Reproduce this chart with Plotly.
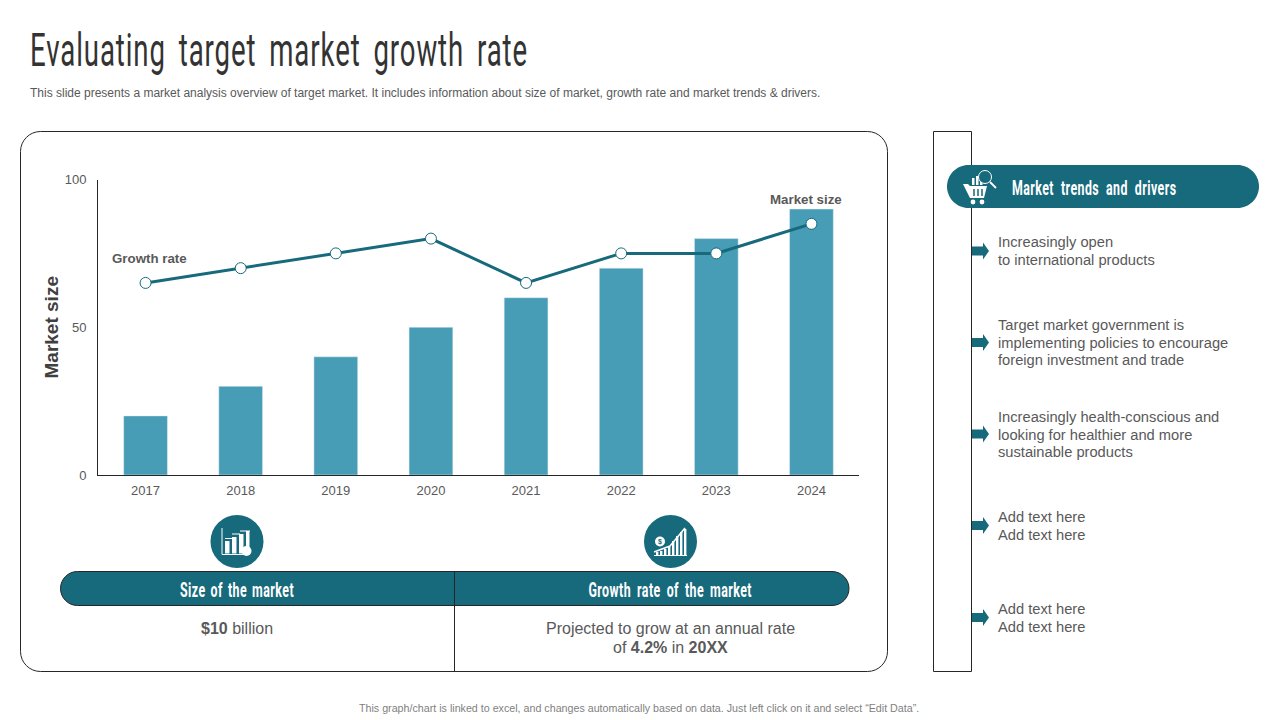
import plotly.graph_objects as go

years = ['2017', '2018', '2019', '2020', '2021', '2022', '2023', '2024']
market_size = [20, 30, 40, 50, 60, 70, 80, 90]
growth_rate = [65, 70, 75, 80, 65, 75, 75, 85]

title = 'Evaluating target market growth rate'
subtitle = ('This slide presents a market analysis overview of target market. It includes '
            'information about size of market, growth rate and market trends & drivers.')
footer = 'This graph/chart is linked to excel, and changes automatically based on data. Just left click on it and select “Edit Data”.'
pill_trends = 'Market trends and drivers'
pill_size = 'Size of the market'
pill_growth = 'Growth rate of the market'
drivers = [
    ['Increasingly open', 'to international products'],
    ['Target market government is', 'implementing policies to encourage', 'foreign investment and trade'],
    ['Increasingly health-conscious and', 'looking for healthier and more', 'sustainable products'],
    ['Add text here', 'Add text here'],
    ['Add text here', 'Add text here'],
]
driver_lines_y = [[242, 260], [325, 343, 360], [417, 435, 452], [517, 535], [609, 627]]
arrow_y = [251, 342.5, 434, 525.5, 617.5]

TEAL = '#17697c'
BAR = '#479db6'
GREY = '#595959'
DARK = '#262626'
SANS = 'Liberation Sans'
TALL = 'Roboto'


def X(x):
    return x / 1280


def Y(y):
    return 1 - y / 720


def P(x, y):
    return f'{X(x):.5f},{Y(y):.5f}'


def rrect(x0, y0, x1, y1, r):
    # rounded rectangle path, in pixel coordinates
    k = 0.45
    return (f'M{P(x0 + r, y0)} L{P(x1 - r, y0)} '
            f'C{P(x1 - r * k, y0)} {P(x1, y0 + r * k)} {P(x1, y0 + r)} '
            f'L{P(x1, y1 - r)} C{P(x1, y1 - r * k)} {P(x1 - r * k, y1)} {P(x1 - r, y1)} '
            f'L{P(x0 + r, y1)} C{P(x0 + r * k, y1)} {P(x0, y1 - r * k)} {P(x0, y1 - r)} '
            f'L{P(x0, y0 + r)} C{P(x0, y0 + r * k)} {P(x0 + r * k, y0)} {P(x0 + r, y0)} Z')


def poly(points):
    return 'M' + ' L'.join(P(x, y) for x, y in points) + ' Z'


def path_shape(path, fill='rgba(0,0,0,0)', line=None, width=1, layer='above'):
    return dict(type='path', xref='paper', yref='paper', path=path, fillcolor=fill, layer=layer,
                line=dict(color=line or 'rgba(0,0,0,0)', width=width if line else 0))


def rect(x0, y0, x1, y1, fill='rgba(0,0,0,0)', line=None, width=1, layer='above'):
    return dict(type='rect', xref='paper', yref='paper', x0=X(x0), x1=X(x1), y0=Y(y0), y1=Y(y1),
                fillcolor=fill, layer=layer,
                line=dict(color=line or 'rgba(0,0,0,0)', width=width if line else 0))


def circle(cx, cy, r, fill='rgba(0,0,0,0)', line=None, width=1):
    return dict(type='circle', xref='paper', yref='paper', x0=X(cx - r), x1=X(cx + r),
                y0=Y(cy + r), y1=Y(cy - r), fillcolor=fill,
                line=dict(color=line or 'rgba(0,0,0,0)', width=width if line else 0))


def segment(x0, y0, x1, y1, color='white', width=1):
    return dict(type='line', xref='paper', yref='paper', x0=X(x0), x1=X(x1), y0=Y(y0), y1=Y(y1),
                line=dict(color=color, width=width))


def label(x, y, text, size, color=GREY, anchor='left', family=SANS):
    return dict(xref='paper', yref='paper', x=X(x), y=Y(y), text=text, showarrow=False,
                xanchor=anchor, yanchor='middle', align=anchor, borderpad=0, borderwidth=0,
                font=dict(family=family, size=size, color=color))


shapes = [
    path_shape(rrect(20.5, 131.5, 887.5, 671.5, 20), 'white', DARK, 1, layer='below'),
    rect(933.5, 131.5, 971.5, 671.5, 'white', DARK, 1),
    path_shape(rrect(947, 165, 1259, 208, 21.5), TEAL),
    path_shape(rrect(60.5, 571.5, 849, 605.5, 17), TEAL, DARK, 1),
    segment(454.5, 571, 454.5, 671, DARK, 1),
    circle(237, 541.5, 26.5, TEAL),
    circle(670.5, 541.5, 26.5, TEAL),
]

# arrows in front of the right column
for y in arrow_y:
    shapes.append(path_shape(poly([(972, y - 4.5), (983, y - 4.5), (983, y - 8.5), (989, y),
                                   (983, y + 8.5), (983, y + 4.5), (972, y + 4.5)]), TEAL))

# size-of-market icon
shapes += [
    segment(222, 528, 222, 554.5, 'white', 1),
    segment(222, 554.5, 250, 554.5, 'white', 1),
    rect(225, 541, 229.5, 553.5, 'white'),
    rect(232, 537, 236.5, 553.5, 'white'),
    rect(239, 534, 243.5, 553.5, 'white'),
    rect(246, 531, 249.5, 550, 'white'),
    circle(246.5, 551, 5, 'white'),
    segment(225, 538.5, 232, 538.5, 'white', 1),
    segment(232, 534, 240, 534, 'white', 1),
    segment(240, 531, 250, 531, 'white', 1),
]

# growth-rate icon
shapes.append(circle(660, 541.5, 5, 'white'))
for x, top in [(656, 552), (660, 551), (664, 549), (668, 546), (672, 541), (676, 536), (680, 532), (684, 529)]:
    shapes.append(rect(x, top, x + 2.4, 555, 'white'))
shapes += [
    segment(654, 552, 670, 546, 'white', 1.5),
    segment(670, 546, 685, 528, 'white', 1.5),
    segment(654, 555.5, 687, 555.5, 'white', 1),
]

# cart icon in the pill
shapes += [
    path_shape(poly([(963, 184), (968, 184), (970, 186), (987, 186), (984, 198), (970, 198)]), 'white'),
    circle(973, 202, 2.4, 'white'),
    circle(982, 202, 2.4, 'white'),
    rect(972, 178, 974.5, 185, 'white'),
    rect(976, 176, 978.5, 185, 'white'),
    rect(980, 178, 982.5, 185, 'white'),
    circle(985, 177, 6.5, TEAL, 'white', 1),
    segment(990, 182, 996, 188, 'white', 1.8),
    segment(974, 189, 974, 196, TEAL, 1.5),
    segment(978, 189, 978, 196, TEAL, 1.5),
    segment(982, 189, 982, 196, TEAL, 1.5),
]

annotations = [
    label(30, 50, title, 46, '#333333', family=TALL),
    label(30, 93.5, subtitle, 12),
    label(639, 708, footer, 10.7, '#7f7f7f', 'center'),
    label(1012, 187.5, f'<b>{pill_trends}</b>', 20, 'white', 'left', TALL),
    label(237, 589.5, f'<b>{pill_size}</b>', 20, 'white', 'center', TALL),
    label(670.5, 589.5, f'<b>{pill_growth}</b>', 20, 'white', 'center', TALL),
    label(660, 541.5, '<b>$</b>', 7, TEAL, 'center'),
    label(237, 628.5, '<b>$10</b> billion', 16, GREY, 'center'),
    label(670.5, 628.5, 'Projected to grow at an annual rate', 16, GREY, 'center'),
    label(670.5, 647.5, 'of <b>4.2%</b> in <b>20XX</b>', 16, GREY, 'center'),
    # series labels sit next to the first / last points
    dict(xref='x', yref='y', x=0, y=growth_rate[0], text='<b>Growth rate</b>', showarrow=False,
         xshift=4, yshift=24, font=dict(family=SANS, size=13.3, color=GREY)),
    dict(xref='x', yref='y', x=len(years) - 1, y=market_size[-1], text='<b>Market size</b>', showarrow=False,
         xshift=-5, yshift=10, font=dict(family=SANS, size=13.3, color=GREY)),
]
for lines, ys in zip(drivers, driver_lines_y):
    for line, y in zip(lines, ys):
        annotations.append(label(998, y, line, 14.7))

fig = go.Figure()
fig.add_bar(x=years, y=market_size, marker_color=BAR, width=0.46, name='Market size')
fig.add_scatter(x=years, y=growth_rate, mode='lines+markers', name='Growth rate',
                line=dict(color=TEAL, width=3),
                marker=dict(size=11, color='white', line=dict(color=TEAL, width=1)))

fig.update_layout(
    width=1280, height=720,
    margin=dict(l=0, r=0, t=0, b=0, autoexpand=False),
    paper_bgcolor='white', plot_bgcolor='rgba(0,0,0,0)',
    showlegend=False,
    shapes=shapes,
    annotations=annotations,
    font=dict(family=SANS, color=GREY),
    xaxis=dict(domain=[X(98), X(859)], type='category', showgrid=False, showline=True,
               linecolor=DARK, linewidth=1, ticks='outside', ticklen=3, tickcolor='rgba(0,0,0,0)',
               tickfont=dict(size=13, color=GREY)),
    yaxis=dict(domain=[Y(475), Y(179.5)], range=[0, 100], tickvals=[0, 50, 100], showgrid=False,
               zeroline=False, showline=True, linecolor=DARK, linewidth=1,
               ticks='outside', ticklen=8, tickcolor='rgba(0,0,0,0)',
               tickfont=dict(size=13, color=GREY),
               title=dict(text='<b>Market size</b>', standoff=1, font=dict(size=19, color='#404040'))),
)

# no condensed font is installed, so squeeze the heading texts horizontally
squeeze = """
document.body.style.margin = '0';
var widths = {'%s': [0.6, 1.5, 8.5], '%s': [0.62, 0.7, 5.5], '%s': [0.62, 0.7, 2.5], '%s': [0.62, 0.7, 4]};
document.querySelectorAll('.annotation-text').forEach(function (t) {
  var s = widths[t.textContent];
  if (s) {
    var x = parseFloat(t.getAttribute('x'));
    t.style.letterSpacing = s[1] + 'px';
    t.style.wordSpacing = s[2] + 'px';
    t.setAttribute('transform', 'translate(' + x + ' 0) scale(' + s[0] + ' 1) translate(' + (-x) + ' 0)');
  }
});
""" % (title, pill_trends, pill_size, pill_growth)

fig.write_html('out.html', config={'displayModeBar': False}, post_script=squeeze)
